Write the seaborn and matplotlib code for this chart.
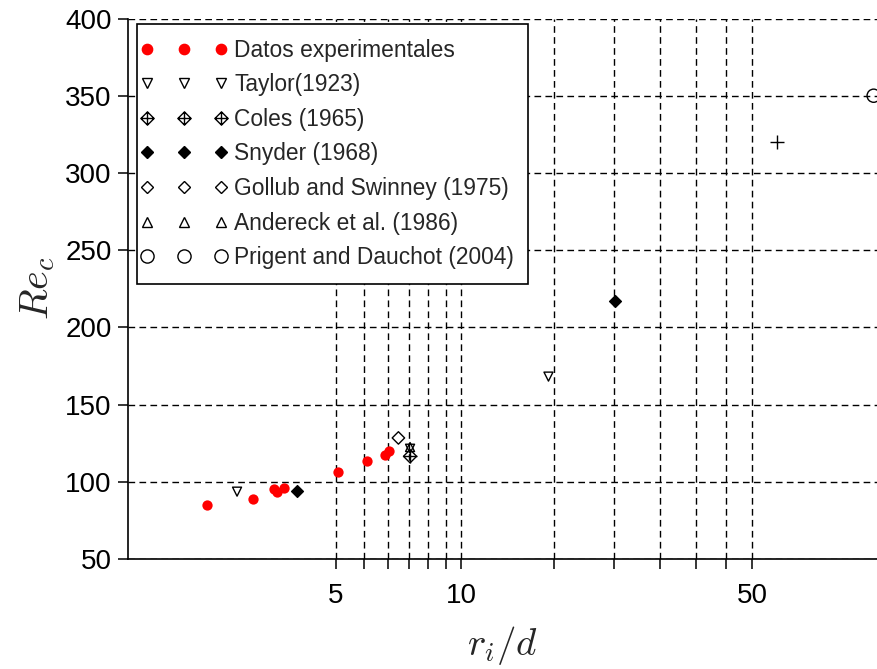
import numpy as np
import pandas as pd
import matplotlib
matplotlib.use("Agg")
import matplotlib.pyplot as plt
from matplotlib.path import Path
from matplotlib.lines import Line2D
from matplotlib.legend_handler import HandlerLine2D
from matplotlib.ticker import FixedLocator, FixedFormatter, NullLocator
import seaborn as sns

# ---------------- data ----------------
exp_x = [2.45, 3.15, 3.55, 3.60, 3.75, 5.06, 5.94, 6.56, 6.71]
exp_y = [85.0, 88.9, 95.1, 93.2, 96.2, 106.5, 113.5, 117.4, 120.1]

taylor_x = [2.89, 7.53, 16.2]
taylor_y = [93.6, 121.4, 168.1]

coles_x = [7.53, 57.3]
coles_y = [116.5, 320.3]

snyder_x = [4.03, 23.4]
snyder_y = [94.2, 217.3]

gollub_x = [7.06]
gollub_y = [128.4]

andereck_x = [7.53]
andereck_y = [122.5]

prigent_x = [98.0]
prigent_y = [350.0]

series_labels = [
    "Datos experimentales",
    "Taylor(1923)",
    "Coles (1965)",
    "Snyder (1968)",
    "Gollub and Swinney (1975)",
    "Andereck et al. (1986)",
    "Prigent and Dauchot (2004)",
]

xtick_values = [5, 5.833, 6.667, 7.5, 8.333, 9.167, 10,
                16.67, 23.33, 30, 36.67, 43.33, 50]
xtick_labels = ["5", "", "", "", "", "", "10", "", "", "", "", "", "50"]
ytick_values = [50, 100, 150, 200, 250, 300, 350, 400]
ytick_labels = ["50", "100", "150", "200", "250", "300", "350", "400"]

# ---------------- style ----------------
sns.set_style("ticks")
plt.rcParams["font.family"] = ["Liberation Sans", "DejaVu Sans"]
plt.rcParams["mathtext.fontset"] = "cm"

W, H = 877, 669
fig = plt.figure(figsize=(W / 100, H / 100), dpi=100)
ax_left, ax_right = 128.3, 877.3
ax_top, ax_bottom = 18.5, 559.0
ax = fig.add_axes([ax_left / W, 1 - ax_bottom / H,
                   (ax_right - ax_left) / W, (ax_bottom - ax_top) / H])

ax.set_xscale("log")
ax.set_xlim(1.583, 100)
ax.set_ylim(50, 400)

# plus-in-diamond marker for Coles
pd_verts = [(0, 1), (1, 0), (0, -1), (-1, 0), (0, 1),
            (-1, 0), (1, 0), (0, -1), (0, 1)]
pd_codes = [Path.MOVETO, Path.LINETO, Path.LINETO, Path.LINETO, Path.CLOSEPOLY,
            Path.MOVETO, Path.LINETO, Path.MOVETO, Path.LINETO]
plus_diamond = Path(pd_verts, pd_codes)

lw = 1.0
sns.scatterplot(x=exp_x, y=exp_y, ax=ax, marker="o", s=55, color="#ff0000",
                edgecolor="#ff0000", linewidth=0, legend=False, zorder=3)
sns.scatterplot(x=taylor_x, y=taylor_y, ax=ax, marker="v", s=42,
                facecolor="none", edgecolor="black", linewidth=lw, legend=False, zorder=3)
sns.scatterplot(x=coles_x, y=coles_y, ax=ax, marker="+", s=90,
                color="black", linewidth=lw, legend=False, zorder=3)
sns.scatterplot(x=coles_x[:1], y=coles_y[:1], ax=ax, marker="D", s=45,
                facecolor="none", edgecolor="black", linewidth=lw, legend=False, zorder=3)
sns.scatterplot(x=snyder_x, y=snyder_y, ax=ax, marker="D", s=36,
                color="black", edgecolor="black", linewidth=lw, legend=False, zorder=3)
sns.scatterplot(x=gollub_x, y=gollub_y, ax=ax, marker="D", s=40,
                facecolor="none", edgecolor="black", linewidth=lw, legend=False, zorder=3)
sns.scatterplot(x=andereck_x, y=andereck_y, ax=ax, marker="^", s=42,
                facecolor="none", edgecolor="black", linewidth=lw, legend=False, zorder=3)
sns.scatterplot(x=prigent_x, y=prigent_y, ax=ax, marker="o", s=90,
                facecolor="none", edgecolor="black", linewidth=lw, legend=False, zorder=3)

# ---------------- axes, ticks, grid ----------------
ax.xaxis.set_major_locator(FixedLocator(xtick_values))
ax.xaxis.set_major_formatter(FixedFormatter(xtick_labels))
ax.xaxis.set_minor_locator(NullLocator())
ax.yaxis.set_major_locator(FixedLocator(ytick_values))
ax.yaxis.set_major_formatter(FixedFormatter(ytick_labels))

ax.tick_params(axis="both", which="major", direction="out", length=7,
               width=1.1, color="black", labelsize=20, labelcolor="black")
ax.tick_params(axis="x", pad=10)
ax.tick_params(axis="y", pad=5)

ax.grid(True, which="major", color="black", linewidth=1.0,
        linestyle=(0, (4.8, 3.1)))
ax.set_axisbelow(True)

for s in ["top", "right"]:
    ax.spines[s].set_visible(False)
for s in ["left", "bottom"]:
    ax.spines[s].set_color("black")
    ax.spines[s].set_linewidth(1.2)

ax.set_xlabel(r"$r_i/d$", fontsize=28, labelpad=11)
ax.set_ylabel(r"$Re_c$", fontsize=29, labelpad=6)

# ---------------- legend ----------------
def h(marker, ms, fc, ec):
    return Line2D([], [], linestyle="none", marker=marker, markersize=ms,
                  markerfacecolor=fc, markeredgecolor=ec, markeredgewidth=lw)

handles = [
    h("o", 7.4, "#ff0000", "#ff0000"),
    h("v", 6.5, "none", "black"),
    h(plus_diamond, 9.5, "none", "black"),
    h("D", 6.0, "black", "black"),
    h("D", 6.3, "none", "black"),
    h("^", 6.5, "none", "black"),
    h("o", 9.5, "none", "black"),
]
aw = ax_right - ax_left
ah = ax_bottom - ax_top
leg = ax.legend(handles, series_labels, loc="upper left",
                bbox_to_anchor=((137 - ax_left) / aw, 1 - (24 - ax_top) / ah),
                borderaxespad=0, numpoints=3, handlelength=2.85,
                handletextpad=0.77, borderpad=0.64,
                labelspacing=0.51, fontsize=16.4, frameon=True, fancybox=False,
                framealpha=1, edgecolor="black",
                handler_map={Line2D: HandlerLine2D(marker_pad=-0.2, numpoints=3)})
leg.get_frame().set_linewidth(1.2)
leg.set_zorder(5)

fig.savefig("out.png", dpi=100)
